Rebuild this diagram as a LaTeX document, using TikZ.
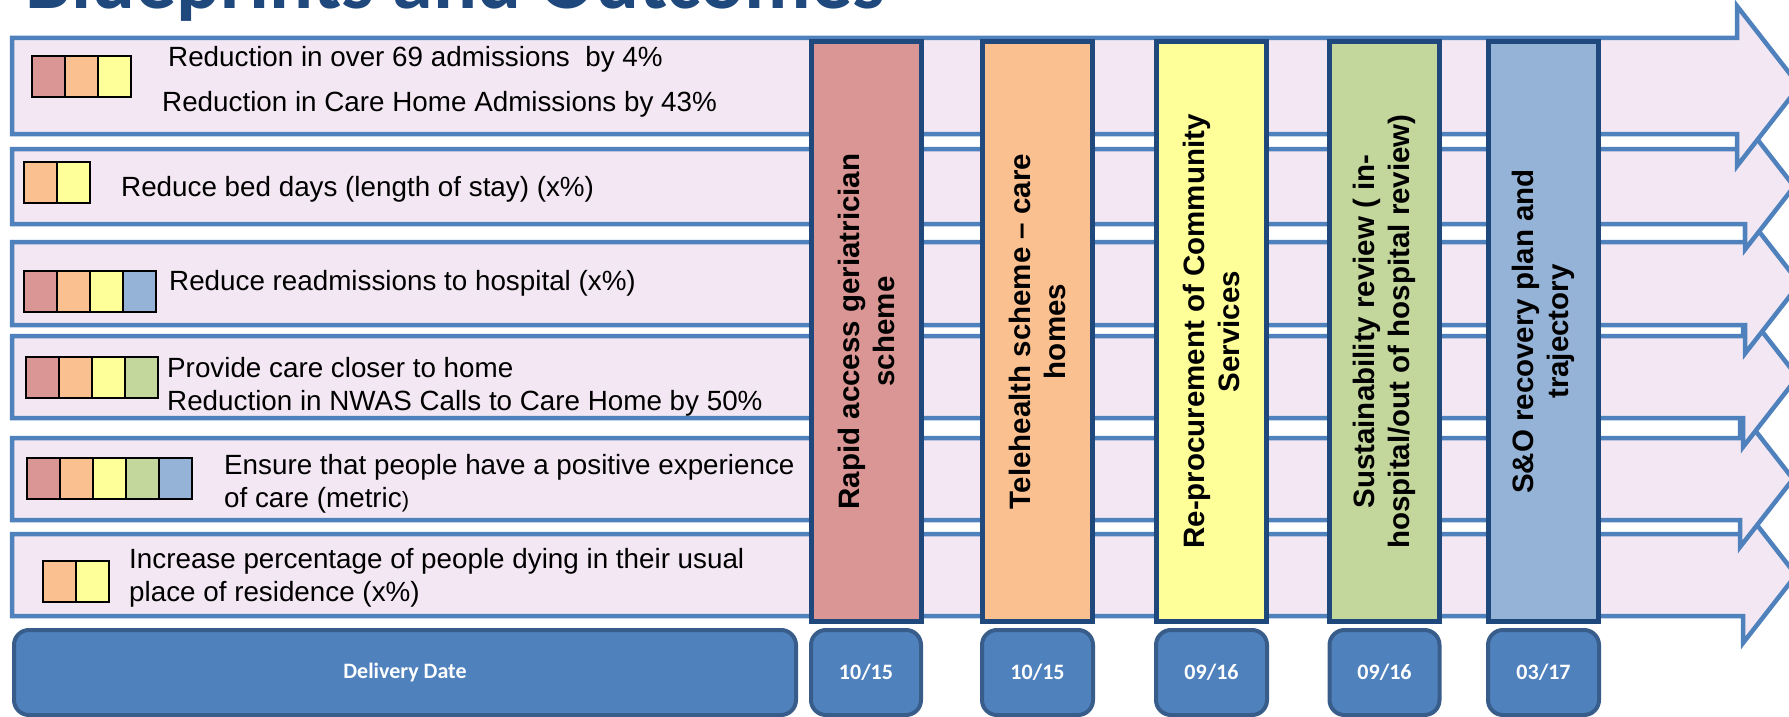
\documentclass[tikz,border=0pt]{standalone}
\usepackage{fontspec}
\setmainfont{Liberation Sans}
\newfontfamily\calibrifont{Carlito}

\definecolor{titleblue}{HTML}{1F497D}
\definecolor{arrowline}{HTML}{4F81BD}
\definecolor{arrowfill}{RGB}{242,231,242}
\definecolor{colframe}{HTML}{1F497D}
\definecolor{datefill}{HTML}{4F81BD}
\definecolor{dateframe}{HTML}{385D8A}
\definecolor{cRose}{HTML}{D99694}
\definecolor{cPeach}{HTML}{FAC090}
\definecolor{cLemon}{HTML}{FFFF99}
\definecolor{cSage}{HTML}{C3D69B}
\definecolor{cSky}{HTML}{95B3D7}

\tikzset{
  outcome/.style={draw=arrowline, fill=arrowfill, line width=4.5pt, line join=miter},
  scheme/.style={draw=colframe, line width=5pt, rotate=90, minimum width=579pt,
    minimum height=110pt, inner sep=0pt, align=center,
    font=\bfseries\fontsize{29.5}{35}\selectfont},
  datebox/.style={draw=dateframe, fill=datefill, line width=4pt, rounded corners=15pt,
    minimum height=85pt, inner sep=0pt, text=white,
    font=\calibrifont\bfseries\fontsize{22}{26}\selectfont},
  legendsq/.style={draw=black, line width=2.5pt},
  outtext/.style={anchor=west, inner sep=0pt, align=left,
    font=\fontsize{27.8}{33}\selectfont},
}

% one outcome arrow: top, bottom, half height of the head, x of the notch
\newcommand\outcomearrow[4]{%
  \pgfmathsetmacro\rowmid{(#1+#2)/2}%
  \pgfmathsetmacro\headtop{\rowmid-#3}%
  \pgfmathsetmacro\headbot{\rowmid+#3}%
  \pgfmathsetmacro\rowtip{#4+0.78*#3}%
  \draw[outcome] (12,#1) -- (#4,#1) -- (#4,\headtop) -- (\rowtip,\rowmid)
    -- (#4,\headbot) -- (#4,#2) -- (12,#2) -- cycle;
}

% a strip of legend squares starting at (x,y)
\newcommand\legendstrip[3]{%
  \foreach \sq [count=\k from 0] in {#3}
    \draw[legendsq, fill=\sq] (#1+33*\k,#2) rectangle ++(33,41);
}

\begin{document}
\begin{tikzpicture}[x=1pt,y=-1pt]
\useasboundingbox (0,0) rectangle (1789,717);
\clip (0,0) rectangle (1789,717);

% heading, partly above the page edge
\node[anchor=base west, inner sep=0pt, text=titleblue,
  font=\calibrifont\bfseries\fontsize{82}{82}\selectfont] (title) at (25,9)
  {Blueprints and Outcomes};

% outcome arrows, lower ones first so the upper heads lie on top
\outcomearrow{534}{616}{68}{1743}
\outcomearrow{438}{520}{68}{1740}
\outcomearrow{336}{418}{70}{1743}
\outcomearrow{242}{325}{70}{1745}
\outcomearrow{149}{224}{63}{1745}
\outcomearrow{38}{134}{80}{1737}

% legend strips
\legendstrip{32}{56}{cRose,cPeach,cLemon}
\legendstrip{24}{162}{cPeach,cLemon}
\legendstrip{24}{271}{cRose,cPeach,cLemon,cSky}
\legendstrip{26}{357}{cRose,cPeach,cLemon,cSage}
\legendstrip{27}{458}{cRose,cPeach,cLemon,cSage,cSky}
\legendstrip{43}{561}{cPeach,cLemon}

% outcome texts
\node[outtext] (o1a) at (168,59) {Reduction in over 69 admissions\ \ by 4\%};
\node[outtext] (o1b) at (162,104) {Reduction in Care Home Admissions by 43\%};
\node[outtext] (o2) at (121,189) {Reduce bed days (length of stay) (x\%)};
\node[outtext] (o3) at (169,283) {Reduce readmissions to hospital (x\%)};
\node[outtext] (o4) at (167,387) {Provide care closer to home\\Reduction in NWAS Calls to Care Home by 50\%};
\node[outtext] (o5) at (224,483.5) {Ensure that people have a positive experience\\of care (metric{\fontsize{22}{26}\selectfont)}};
\node[outtext] (o6) at (129,577.5) {Increase percentage of people dying in their usual\\place of residence (x\%)};

% schemes
\node[scheme, fill=cRose]  (s1) at (866,331.5)  {Rapid access geriatrician\\scheme};
\node[scheme, fill=cPeach] (s2) at (1037.5,331.5) {Telehealth scheme -- care\\homes};
\node[scheme, fill=cLemon] (s3) at (1211.5,331.5) {Re-procurement of Community\\Services};
\node[scheme, fill=cSage]  (s4) at (1384.5,331.5) {Sustainability review ( in-\\hospital/out of hospital review)};
\node[scheme, fill=cSky]   (s5) at (1543.5,331.5) {S\&O recovery plan and\\trajectory};

% delivery dates
\node[datebox, minimum width=782pt] (dd) at (405,672.5) {Delivery Date};
\node[datebox, minimum width=110pt] (d1) at (866,672.5) {10/15};
\node[datebox, minimum width=111pt] (d2) at (1037.5,672.5) {10/15};
\node[datebox, minimum width=111pt] (d3) at (1211.5,672.5) {09/16};
\node[datebox, minimum width=110pt] (d4) at (1384.5,672.5) {09/16};
\node[datebox, minimum width=111pt] (d5) at (1543.5,672.5) {03/17};
\end{tikzpicture}
\end{document}
